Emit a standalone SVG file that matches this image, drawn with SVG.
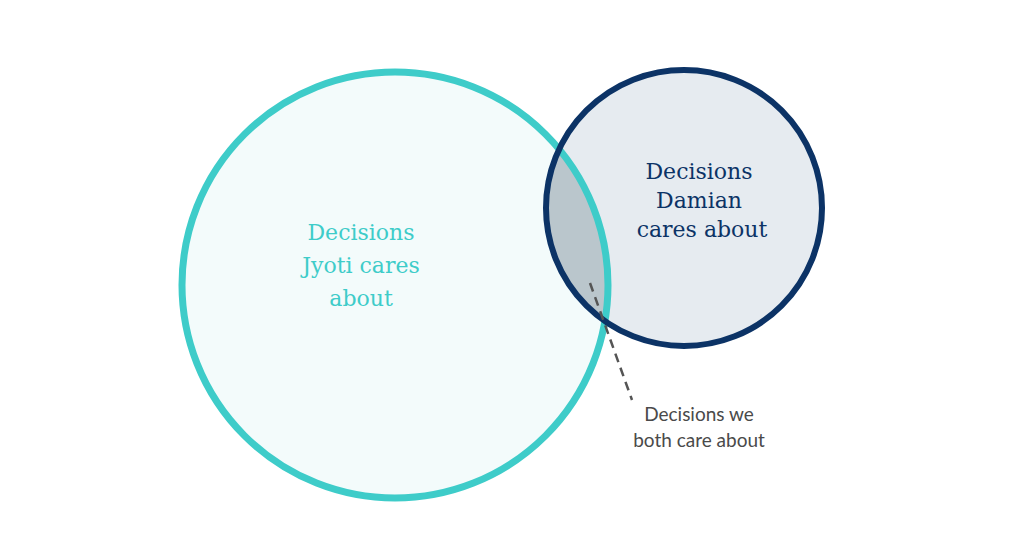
<svg xmlns="http://www.w3.org/2000/svg" width="1024" height="550" viewBox="0 0 1024 550">
<style>
.big{font-family:"DejaVu Serif","Liberation Serif",serif;font-size:22px;text-anchor:middle}
.lbl{font-family:"Lato","Liberation Sans",sans-serif;font-size:19px;fill:#4a4a4a;text-anchor:middle}
</style>
<defs><clipPath id="cb"><circle cx="395" cy="285" r="213"/></clipPath></defs>
<rect width="1024" height="550" fill="#fff"/>
<g id="jyoti">
<circle cx="395" cy="285" r="213" fill="#F3FBFB"/>
</g>
<g id="damian">
<circle cx="684" cy="208" r="138" fill="#E6EBF0"/>
</g>
<g id="overlap">
<circle cx="684" cy="208" r="138" fill="#BAC6CC" clip-path="url(#cb)"/>
</g>
<circle cx="395" cy="285" r="213" fill="none" stroke="#3ECCC9" stroke-width="7"/>
<circle cx="684" cy="208" r="138" fill="none" stroke="#0C3366" stroke-width="6"/>
<text class="big" fill="#3ECCC9"><tspan x="361" y="240">Decisions</tspan><tspan x="361" y="273">Jyoti cares</tspan><tspan x="361" y="306">about</tspan></text>
<text class="big" fill="#0C3366"><tspan x="699" y="179">Decisions</tspan><tspan x="699" y="208">Damian</tspan><tspan x="702" y="237">cares about</tspan></text>
<g id="connectors">
<line x1="590" y1="283" x2="632" y2="400" stroke="#555" stroke-width="2.5" stroke-dasharray="9,6"/>
</g>
<g id="label">
<text class="lbl"><tspan x="699" y="421">Decisions we</tspan><tspan x="699" y="447">both care about</tspan></text>
</g>
</svg>
